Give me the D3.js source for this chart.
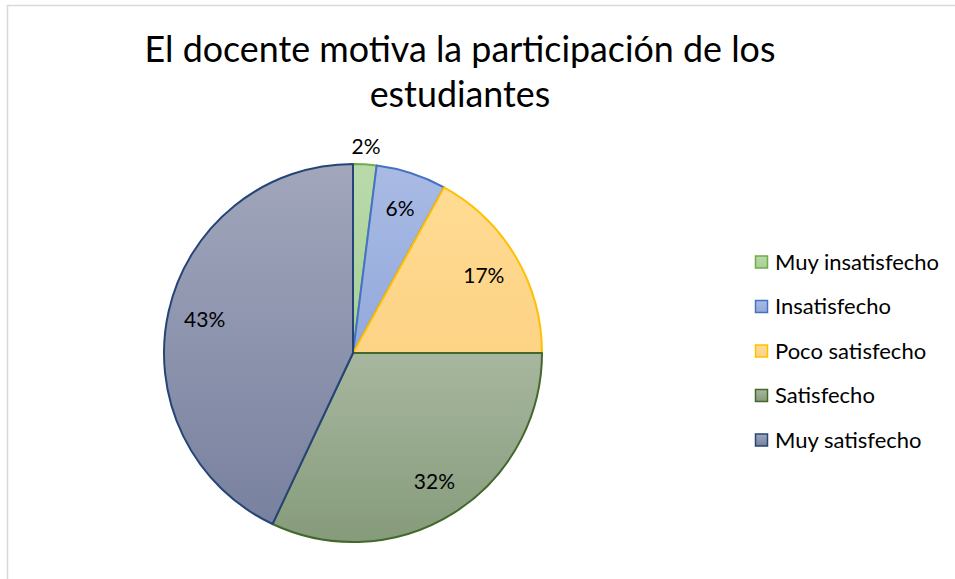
<!DOCTYPE html>
<html lang="es">
  <head>
    <meta charset="UTF-8" />
    <title>Pie Chart</title>
    <script src="https://d3js.org/d3.v7.min.js"></script>
    <style>
      body { margin: 0; background: #fff; }
      text { font-family: Lato, "Noto Sans", sans-serif; fill: #000; }
    </style>
  </head>
  <body>
    <svg id="canvas"></svg>
  </body>
  <script>
    let categories = ["Muy insatisfecho", "Insatisfecho", "Poco satisfecho", "Satisfecho", "Muy satisfecho"];
    let values = [2, 6, 17, 32, 43];
    let labels = ["2%", "6%", "17%", "32%", "43%"];
    let titleLines = ["El docente motiva la participación de los", "estudiantes"];

    // fill gradient top/bottom and outline per slice
    let topColors = ["#b9d9ab", "#a9bbe4", "#ffdb93", "#a7b79f", "#a1a6bb"];
    let bottomColors = ["#a8cf96", "#93a9dc", "#fdd385", "#869b7b", "#78819f"];
    let strokeColors = ["#70ad47", "#4472c4", "#ffc000", "#43682b", "#264478"];

    let width = 955;
    let height = 579;
    let cx = 353;
    let cy = 353;
    let radius = 189;

    let svg = d3.select("svg").attr("width", width).attr("height", height);

    // chart area border
    svg.append("rect")
      .attr("x", 7.5).attr("y", 5.5)
      .attr("width", width).attr("height", height)
      .attr("fill", "none")
      .attr("stroke", "#d9d9d9")
      .attr("stroke-width", 1.5);

    let defs = svg.append("defs");
    categories.forEach((c, i) => {
      let g = defs.append("linearGradient")
        .attr("id", "grad" + i)
        .attr("x1", 0).attr("y1", 0).attr("x2", 0).attr("y2", 1);
      g.append("stop").attr("offset", "0%").attr("stop-color", topColors[i]);
      g.append("stop").attr("offset", "100%").attr("stop-color", bottomColors[i]);
    });

    // title
    let titleY = [62, 107];
    let titleG = svg.append("g");
    titleLines.forEach((t, i) => {
      titleG.append("text")
        .attr("x", 460)
        .attr("y", titleY[i])
        .attr("text-anchor", "middle")
        .attr("font-size", 32)
        .text(t);
    });
    // fit first line to the reference width
    let w0 = titleG.select("text").node().getComputedTextLength();
    titleG.selectAll("text").attr("font-size", 32 * 631 / w0);

    let pie = d3.pie().sort(null).value((d) => d);
    let arcs = pie(values);

    let arc = d3.arc().innerRadius(0).outerRadius(radius);
    let labelArc = d3.arc().innerRadius(152).outerRadius(152);
    let outerLabelArc = d3.arc().innerRadius(207).outerRadius(207);

    let pieG = svg.append("g").attr("transform", "translate(" + cx + "," + cy + ")");

    pieG.selectAll("path")
      .data(arcs)
      .enter()
      .append("path")
      .attr("d", arc)
      .attr("fill", (d, i) => "url(#grad" + i + ")")
      .attr("stroke", (d, i) => strokeColors[i])
      .attr("stroke-width", 2)
      .attr("stroke-linejoin", "round");

    pieG.selectAll("text.lbl")
      .data(arcs)
      .enter()
      .append("text")
      .attr("class", "lbl")
      .attr("transform", (d) => {
        let p = d.data < 4 ? outerLabelArc.centroid(d) : labelArc.centroid(d);
        return "translate(" + p[0] + "," + p[1] + ")";
      })
      .attr("text-anchor", "middle")
      .attr("dy", "0.35em")
      .attr("font-size", 21)
      .text((d, i) => labels[i]);

    // legend
    let legendY = d3.scalePoint().domain(categories).range([262, 440]);
    let items = svg.append("g").selectAll("g")
      .data(categories)
      .enter()
      .append("g")
      .attr("transform", (d) => "translate(755," + legendY(d) + ")");
    items.append("rect")
      .attr("x", 0.5).attr("y", -6)
      .attr("width", 12).attr("height", 12)
      .attr("fill", (d, i) => "url(#grad" + i + ")")
      .attr("stroke", (d, i) => strokeColors[i])
      .attr("stroke-width", 1.5);
    items.append("text")
      .attr("x", 20)
      .attr("dy", "0.35em")
      .attr("font-size", 22)
      .text((d) => d);
  </script>
</html>
